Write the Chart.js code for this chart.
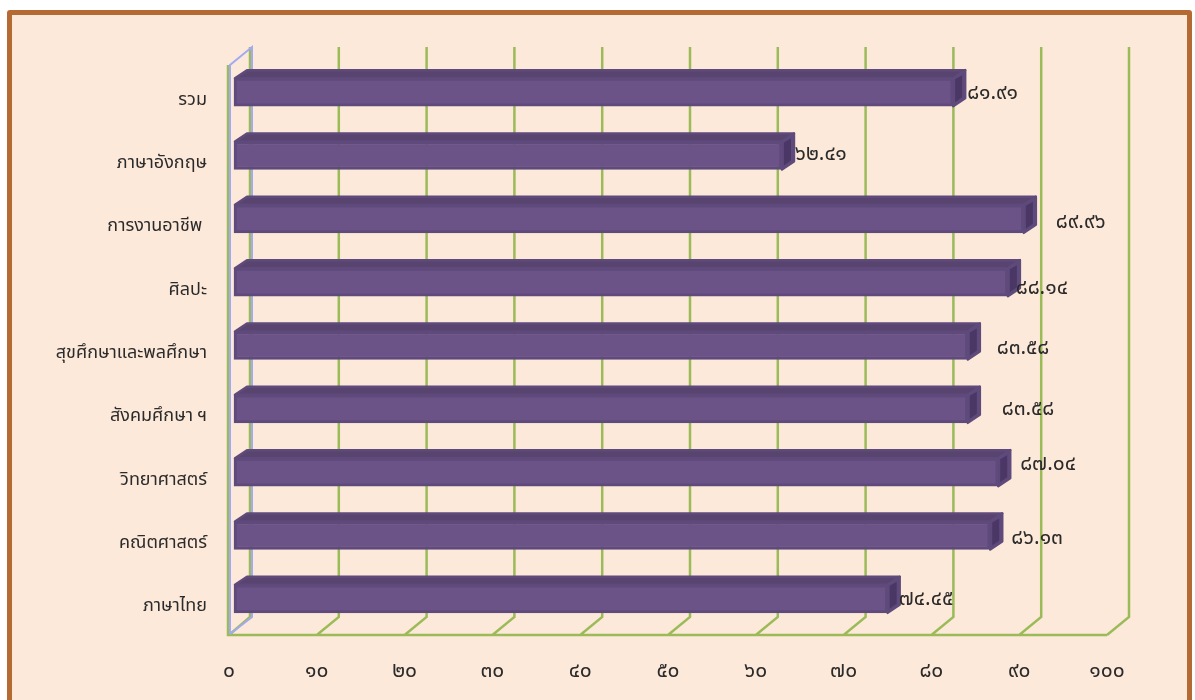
<!DOCTYPE html>
<html>
<head>
<meta charset="utf-8">
<script src="https://cdn.jsdelivr.net/npm/chart.js@4"></script>
<style>
html, body { margin: 0; padding: 0; background: #fff; overflow: hidden; }
#frame {
    position: absolute; left: 7px; top: 10px; width: 1175px; height: 700px;
    background: #fde9da; border: 5px solid #b56a33; border-radius: 3px;
}
#chartCanvas { position: absolute; left: 0; top: 0; }
</style>
</head>
<body>
<div id="frame"></div>
<canvas id="chartCanvas" width="1195" height="700"></canvas>
<script>
const categories = ['รวม', 'ภาษาอังกฤษ', 'การงานอาชีพ ', 'ศิลปะ', 'สุขศึกษาและพลศึกษา', 'สังคมศึกษา ฯ', 'วิทยาศาสตร์', 'คณิตศาสตร์', 'ภาษาไทย'];
const scores = [81.91, 62.41, 89.96, 88.14, 83.58, 83.58, 87.04, 86.13, 74.45];
const scoreLabels = ['๘๑.๙๑', '๖๒.๔๑', '๘๙.๙๖', '๘๘.๑๔', '๘๓.๕๘', '๘๓.๕๘', '๘๗.๐๔', '๘๖.๑๓', '๗๔.๔๕'];
const xTickLabels = ['๐', '๑๐', '๒๐', '๓๐', '๔๐', '๕๐', '๖๐', '๗๐', '๘๐', '๙๐', '๑๐๐'];

// the labels were dragged by hand in the original, so each has its own nudge
const labelNudgeX = [2, 1, 20, -4, 17, 22, 10, 9, -1];
const labelNudgeY = [5, 3.5, 8, 10.5, 7, 4.5, -4, 7.5, 5];

const THAI_FONT = '"Noto Sans", "Noto Sans Thai", Loma, "DejaVu Sans", sans-serif';
const GRID_GREEN = '#9bbb59';
const WALL_BLUE = '#a3a9f2';
const DEPTH_X = 22, DEPTH_Y = 18;     // back wall offset
const BAR_IN_X = 5, BAR_IN_Y = 4.5;   // bar sits this far into the depth
const BAR_DX = 12, BAR_DY = 8;        // bar's own depth

const wallsPlugin = {
    id: 'walls',
    beforeDatasetsDraw(chart) {
        const { ctx, chartArea: a, scales: { x } } = chart;
        ctx.save();
        // grid on back wall and floor
        ctx.lineWidth = 2.5;
        ctx.strokeStyle = GRID_GREEN;
        ctx.beginPath();
        for (let i = 0; i < xTickLabels.length; i++) {
            const px = x.getPixelForValue(i * 10);
            const shift = i === 0 ? -1 : 0;
            ctx.moveTo(px + DEPTH_X + shift, a.top - DEPTH_Y);
            ctx.lineTo(px + DEPTH_X + shift, a.bottom - DEPTH_Y);
            ctx.lineTo(px, a.bottom);
        }
        ctx.moveTo(a.left - 1, a.top);
        ctx.lineTo(a.left - 1, a.bottom);
        ctx.lineTo(a.right, a.bottom);
        ctx.stroke();
        // left wall, just right of the green edges
        ctx.lineWidth = 2;
        ctx.strokeStyle = WALL_BLUE;
        ctx.beginPath();
        ctx.moveTo(a.left + 1, a.bottom - 1);
        ctx.lineTo(a.left + 1, a.top);
        ctx.lineTo(a.left + DEPTH_X + 1, a.top - DEPTH_Y);
        ctx.lineTo(a.left + DEPTH_X + 1, a.bottom - DEPTH_Y);
        ctx.lineTo(a.left + 1, a.bottom - 1);
        ctx.stroke();
        ctx.restore();
    },
    beforeDatasetDraw(chart) {
        const { ctx } = chart;
        const bars = chart.getDatasetMeta(0).data;
        ctx.save();
        ctx.translate(BAR_IN_X, -BAR_IN_Y);
        bars.forEach(bar => {
            const left = bar.base + 1, right = bar.x;
            const top = bar.y - bar.height / 2, bottom = bar.y + bar.height / 2;
            ctx.lineJoin = 'round';
            ctx.lineWidth = 2.5;
            ctx.strokeStyle = '#5f4a7c';
            // top face
            ctx.fillStyle = '#59436f';
            ctx.beginPath();
            ctx.moveTo(left, top);
            ctx.lineTo(left + BAR_DX, top - BAR_DY);
            ctx.lineTo(right + BAR_DX, top - BAR_DY);
            ctx.lineTo(right, top);
            ctx.closePath();
            ctx.fill();
            ctx.stroke();
            // end face
            ctx.fillStyle = '#5f4a7c';
            ctx.beginPath();
            ctx.moveTo(right, top);
            ctx.lineTo(right + BAR_DX, top - BAR_DY);
            ctx.lineTo(right + BAR_DX, bottom - BAR_DY);
            ctx.lineTo(right, bottom);
            ctx.closePath();
            ctx.fill();
            ctx.stroke();
            // dark inset on the end face
            ctx.fillStyle = '#4b3766';
            ctx.beginPath();
            ctx.moveTo(right + 2, top + 1);
            ctx.lineTo(right + BAR_DX - 3, top - 3);
            ctx.lineTo(right + BAR_DX - 3, bottom - BAR_DY - 1);
            ctx.lineTo(right + 2, bottom - 4);
            ctx.closePath();
            ctx.fill();
        });
    },
    afterDatasetDraw(chart) {
        const { ctx } = chart;
        ctx.restore();
        // value labels
        const bars = chart.getDatasetMeta(0).data;
        ctx.save();
        ctx.font = '21px ' + THAI_FONT;
        ctx.fillStyle = '#2b2b2b';
        ctx.textAlign = 'left';
        ctx.textBaseline = 'middle';
        bars.forEach((bar, i) => {
            const px = bar.x + BAR_IN_X + 12 + labelNudgeX[i];
            const py = bar.y - BAR_IN_Y - 4.5 + labelNudgeY[i];
            ctx.fillText(scoreLabels[i], px, py);
        });
        ctx.restore();
    }
};

chart = new Chart(document.getElementById('chartCanvas').getContext('2d'), {
    type: 'bar',
    data: {
        labels: categories,
        datasets: [{
            data: scores,
            backgroundColor: '#6b5287',
            borderColor: '#5f4a7c',
            borderWidth: 3,
            borderSkipped: false,
            barThickness: 28,
            clip: false
        }]
    },
    plugins: [wallsPlugin],
    options: {
        indexAxis: 'y',
        responsive: false,
        animation: false,
        layout: { padding: { left: 0, top: 65, right: 88, bottom: 0 } },
        plugins: {
            legend: { display: false },
            tooltip: { enabled: false }
        },
        scales: {
            x: {
                min: 0,
                max: 100,
                grid: { display: false },
                border: { display: false },
                afterFit: scale => { scale.height = 65; },
                ticks: {
                    stepSize: 10,
                    maxRotation: 0,
                    padding: 15,
                    color: '#2b2b2b',
                    font: { family: THAI_FONT, size: 21 },
                    callback: (value) => xTickLabels[value / 10]
                }
            },
            y: {
                grid: { display: false },
                border: { display: false },
                afterFit: scale => { scale.width = 229; },
                ticks: {
                    padding: 14,
                    labelOffset: 3,
                    color: '#2b2b2b',
                    font: { family: THAI_FONT, size: 18 }
                }
            }
        }
    }
});
</script>
</body>
</html>
